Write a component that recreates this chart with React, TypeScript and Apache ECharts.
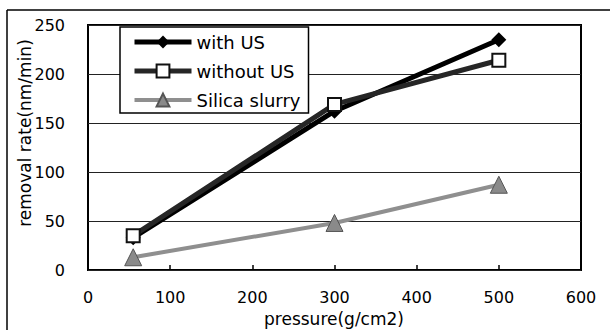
import React, { useEffect, useRef } from "react";
import * as echarts from "echarts";

const pressure = [55, 300, 500];
const withUS = [33, 162, 235];
const withoutUS = [35, 169, 214];
const silica = [13, 48, 87];
const seriesNames = ["with US", "without US", "Silica slurry"];
const xTitle = "pressure(g/cm2)";
const yTitle = "removal rate(nm/min)";

const FONT = "DejaVu Sans";

export default function App() {
  const ref = useRef<HTMLDivElement>(null);
  useEffect(() => {
    if (!ref.current) return;
    const chart = echarts.init(ref.current, undefined, { renderer: "svg" });
    const pts = (ys: number[]) => pressure.map((x, i) => [x, ys[i]]);
    chart.setOption({
      animation: false,
      backgroundColor: "#fff",
      textStyle: { fontFamily: FONT },
      grid: {
        left: 88,
        top: 25,
        width: 493,
        height: 245,
        show: true,
        borderColor: "#000",
        borderWidth: 2,
        backgroundColor: "transparent",
      },
      legend: {
        orient: "vertical",
        left: 120,
        top: 27,
        itemWidth: 57,
        itemHeight: 16,
        itemGap: 11,
        padding: [6, 8, 4, 12],
        backgroundColor: "#fff",
        borderColor: "#000",
        borderWidth: 1.5,
        textStyle: { fontFamily: FONT, fontSize: 18, color: "#000" },
        data: [
          { name: seriesNames[0], lineStyle: { width: 5 } },
          { name: seriesNames[1], lineStyle: { width: 5 } },
          { name: seriesNames[2], lineStyle: { width: 4 } },
        ],
      },
      xAxis: {
        type: "value",
        min: 0,
        max: 600,
        interval: 100,
        axisLine: { show: false },
        axisTick: { show: true, inside: true, length: 5, lineStyle: { color: "#000", width: 1.5 } },
        splitLine: { show: false },
        axisLabel: { fontFamily: FONT, fontSize: 16, color: "#000", margin: 19 },
      },
      yAxis: {
        type: "value",
        min: 0,
        max: 250,
        interval: 50,
        axisLine: { show: false },
        axisTick: { show: false },
        splitLine: { show: true, lineStyle: { color: "#222", width: 1 } },
        axisLabel: { fontFamily: FONT, fontSize: 16, color: "#000", margin: 23 },
      },
      series: [
        {
          name: seriesNames[2],
          type: "line",
          data: pts(silica),
          z: 2,
          lineStyle: { color: "#8f8f8f", width: 4 },
          itemStyle: { color: "#8a8a8a", borderColor: "#555", borderWidth: 1 },
          symbol: "triangle",
          symbolSize: 17,
        },
        {
          name: seriesNames[0],
          type: "line",
          data: pts(withUS),
          z: 3,
          lineStyle: { color: "#000", width: 5 },
          itemStyle: { color: "#000" },
          symbol: "diamond",
          symbolSize: 15,
        },
        {
          name: seriesNames[1],
          type: "line",
          data: pts(withoutUS),
          z: 4,
          lineStyle: { color: "#262626", width: 5 },
          itemStyle: { color: "#fff", borderColor: "#111", borderWidth: 2 },
          symbol: "rect",
          symbolSize: 13,
        },
      ],
      graphic: [
        { type: "line", shape: { x1: 7, y1: 10, x2: 7, y2: 330 }, style: { stroke: "#000", lineWidth: 1.5 } },
        { type: "line", shape: { x1: 7, y1: 10, x2: 610, y2: 10 }, style: { stroke: "#000", lineWidth: 1.5 } },
        {
          type: "text",
          x: 334,
          y: 319,
          style: {
            text: xTitle,
            fontFamily: FONT,
            fontSize: 17,
            fill: "#000",
            align: "center",
            verticalAlign: "middle",
          },
        },
        {
          type: "text",
          x: 25,
          y: 133,
          rotation: Math.PI / 2,
          style: {
            text: yTitle,
            fontFamily: FONT,
            fontSize: 17,
            fill: "#000",
            align: "center",
            verticalAlign: "middle",
          },
        },
      ],
    });
    return () => chart.dispose();
  }, []);
  return (
    <div
      ref={ref}
      style={{ position: "absolute", left: 0, top: 0, width: 610, height: 330 }}
    />
  );
}
